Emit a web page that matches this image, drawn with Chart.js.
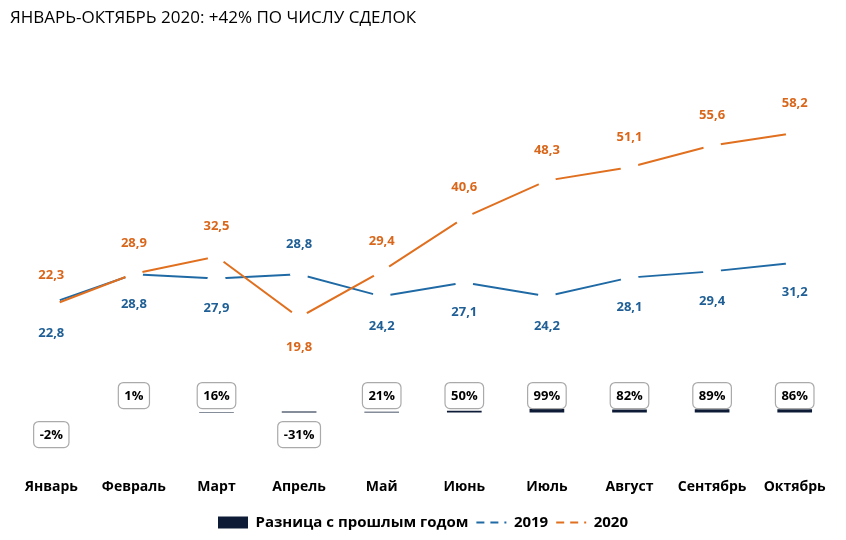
<!DOCTYPE html>
<html><head><meta charset="utf-8">
<script src="https://cdn.jsdelivr.net/npm/chart.js@4"></script>
<style>body{margin:0;background:#fff}#w{width:846px;height:540px;position:relative}</style>
</head><body><div id="w"><canvas id="c"></canvas></div>
<script>
const categories=['Январь','Февраль','Март','Апрель','Май','Июнь','Июль','Август','Сентябрь','Октябрь'];
const values2019=[22.8,28.8,27.9,28.8,24.2,27.1,24.2,28.1,29.4,31.2];
const values2020=[22.3,28.9,32.5,19.8,29.4,40.6,48.3,51.1,55.6,58.2];
const diffPct=[-2,1,16,-31,21,50,99,82,89,86];
const barScale=0.008;
const below2019=[true,true,true,false,true,true,true,true,true,true];
const below2020=[false,false,false,true,false,false,false,false,false,false];
const fmt=v=>v.toFixed(1).replace('.',',');
const labelPlugin={id:'lbl',afterDatasetsDraw(ch){
 const c=ch.ctx;c.save();c.textAlign='center';c.textBaseline='middle';
 c.font='bold 13px "Open Sans", sans-serif';
 [[1,values2019,below2019,'#1f5f95'],[2,values2020,below2020,'#d9671b']].forEach(([i,vals,bel,col])=>{
  const m=ch.getDatasetMeta(i);
  m.data.forEach((p,k)=>{c.fillStyle=col;c.fillText(fmt(vals[k]),p.x,p.y+(bel[k]?30:-30));});
 });
 const m=ch.getDatasetMeta(0);const y0=ch.scales.y.getPixelForValue(0);
 m.data.forEach((p,k)=>{
  const t=diffPct[k]+'%';const w=Math.max(30,c.measureText(t).width+12),h=26;
  const cy=diffPct[k]<0?y0+22:y0-17;
  c.beginPath();c.roundRect(p.x-w/2,cy-h/2,w,h,5);c.fillStyle='#fff';c.fill();
  c.strokeStyle='#aaa';c.lineWidth=1.2;c.stroke();
  c.fillStyle='#000';c.fillText(t,p.x,cy+1);
 });
 c.restore();}};
new Chart(document.getElementById('c'),{
 data:{labels:categories,datasets:[
  {type:'bar',label:'Разница с прошлым годом',data:diffPct.map(v=>Math.abs(v)*barScale),backgroundColor:'#0d1b36',barPercentage:0.42,categoryPercentage:1,order:3},
  {type:'line',label:'2019',data:values2019,borderColor:'#1f6aa5',borderWidth:2,pointRadius:9,pointHoverRadius:9,pointBackgroundColor:'#fff',pointBorderWidth:0,order:2},
  {type:'line',label:'2020',data:values2020,borderColor:'#e0701f',borderWidth:2,pointRadius:9,pointHoverRadius:9,pointBackgroundColor:'#fff',pointBorderWidth:0,order:1}
 ]},
 options:{responsive:true,maintainAspectRatio:false,animation:false,
  layout:{padding:{left:10,right:10,top:0,bottom:0}},
  scales:{y:{display:false,min:-9.5,max:65},
   x:{grid:{display:false},border:{display:false},ticks:{color:'#000',font:{family:'"Open Sans", sans-serif',size:14,weight:'bold'},padding:12}}},
  plugins:{
   title:{display:true,text:'ЯНВАРЬ-ОКТЯБРЬ 2020: +42% ПО ЧИСЛУ СДЕЛОК',align:'start',color:'#000',font:{family:'"Open Sans", sans-serif',size:17,weight:'normal'},padding:{top:8,bottom:72}},
   legend:{position:'bottom',labels:{color:'#000',font:{family:'"Open Sans", sans-serif',size:15,weight:'bold'},boxWidth:30,boxHeight:12,padding:8,
    generateLabels(ch){return [
     {text:'Разница с прошлым годом',fillStyle:'#0d1b36',strokeStyle:'#0d1b36',lineWidth:0,datasetIndex:0},
     {text:'2019',fillStyle:'#fff',strokeStyle:'#fff',lineWidth:0,datasetIndex:1},
     {text:'2020',fillStyle:'#fff',strokeStyle:'#fff',lineWidth:0,datasetIndex:2}];}}},
   tooltip:{enabled:false}}},
 plugins:[labelPlugin,{id:'legDash',afterDraw(ch){
  const c=ch.ctx;const lg=ch.legend;c.save();
  [['#1f6aa5',1],['#e0701f',2]].forEach(([col,i])=>{
   const h=lg.legendHitBoxes[i];if(!h)return;
   const y=h.top+h.height/2;c.strokeStyle=col;c.lineWidth=2;c.setLineDash([8,6]);
   c.beginPath();c.moveTo(h.left,y);c.lineTo(h.left+30,y);c.stroke();});
  c.restore();}}]});
</script></body></html>
